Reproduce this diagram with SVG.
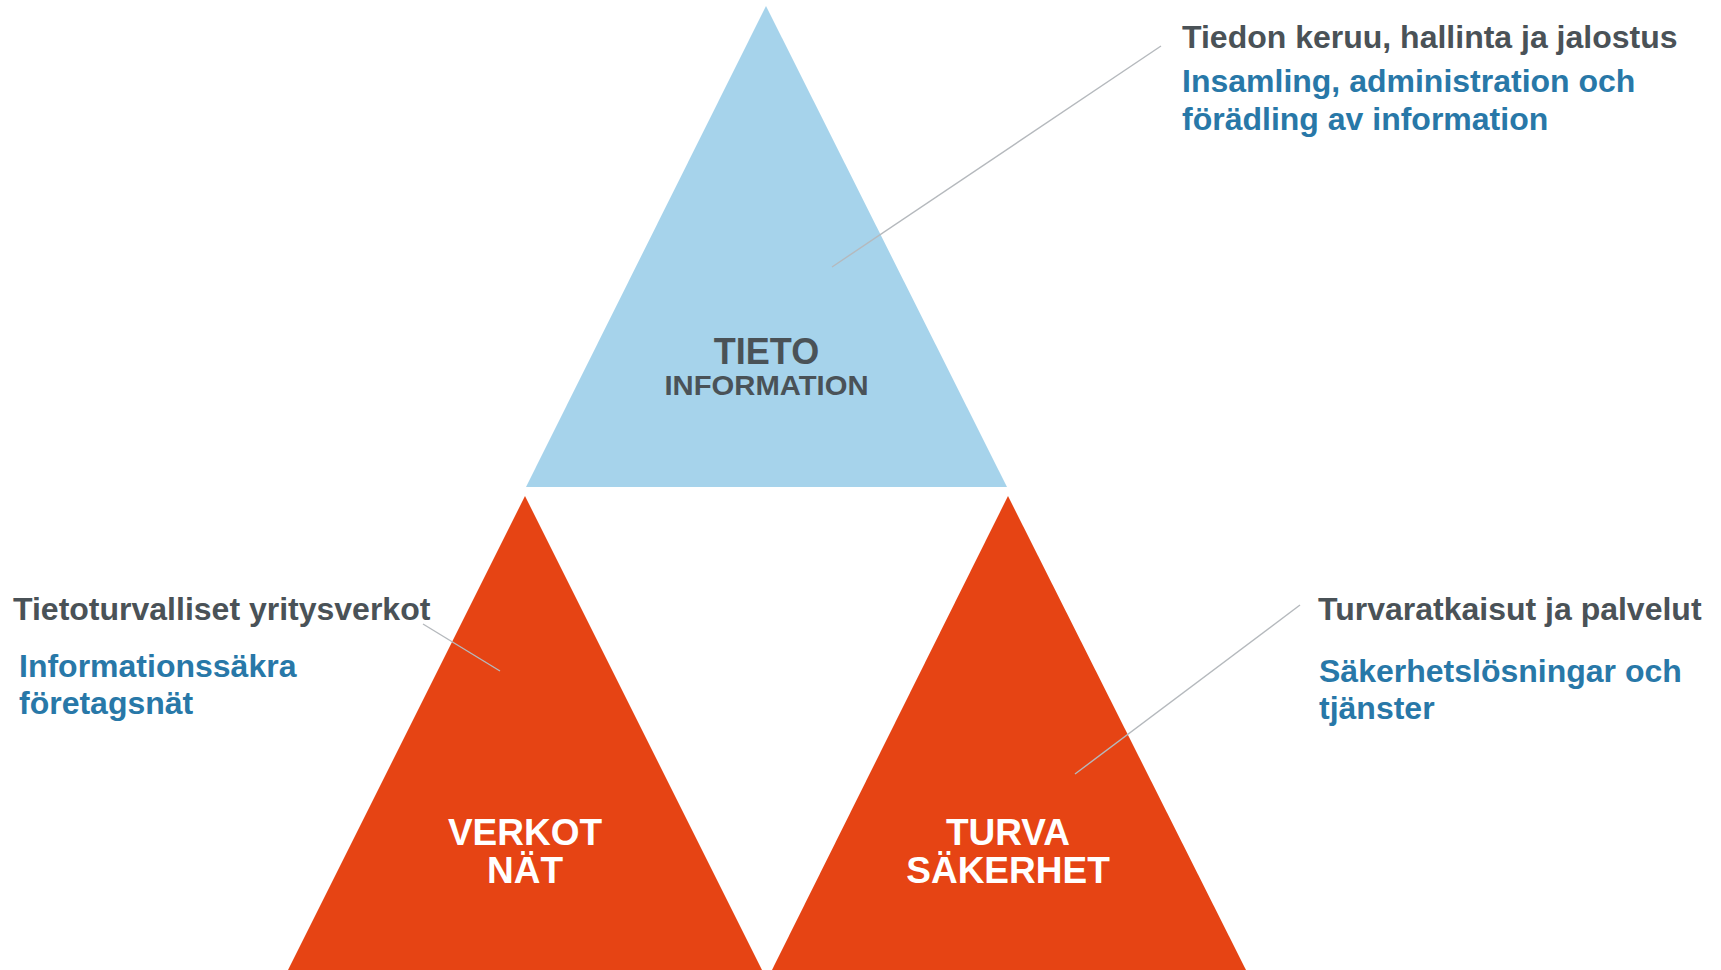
<svg xmlns="http://www.w3.org/2000/svg" width="1721" height="970" viewBox="0 0 1721 970">
<style>
.t{font-family:"Liberation Sans",Arial,sans-serif;font-weight:bold}
.gray{fill:#4A5257;font-size:32px}
.blue{fill:#2878A8;font-size:32px}
.lbl{text-anchor:middle}
.conn{stroke:#B5B9BD;stroke-width:1.4;fill:none}
</style>
<rect width="1721" height="970" fill="#FFFFFF"/>
<g id="tieto">
<polygon points="766,6 1007,487 526,487" fill="#A6D3EB"/>
<text class="t lbl" x="766.5" y="364" font-size="36" fill="#4A5257">TIETO</text>
<text class="t lbl" x="766.5" y="395" font-size="28" fill="#4A5257" textLength="204" lengthAdjust="spacingAndGlyphs">INFORMATION</text>
</g>
<g id="verkot">
<polygon points="525,496 764,974 286,974" fill="#E64414"/>
<text class="t lbl" x="525" y="845" font-size="37" fill="#FFFFFF">VERKOT</text>
<text class="t lbl" x="525" y="883" font-size="37" fill="#FFFFFF">NÄT</text>
</g>
<g id="turva">
<polygon points="1008,496 1248,974 770,974" fill="#E64414"/>
<text class="t lbl" x="1008" y="845" font-size="37" fill="#FFFFFF">TURVA</text>
<text class="t lbl" x="1008" y="883" font-size="37" fill="#FFFFFF">SÄKERHET</text>
</g>
<g id="label-tieto">
<text class="t gray" x="1182" y="48">Tiedon keruu, hallinta ja jalostus</text>
<text class="t blue" x="1182" y="92">Insamling, administration och</text>
<text class="t blue" x="1182" y="130">förädling av information</text>
</g>
<g id="label-verkot">
<text class="t gray" x="13" y="620">Tietoturvalliset yritysverkot</text>
<text class="t blue" x="19" y="677">Informationssäkra</text>
<text class="t blue" x="19" y="714">företagsnät</text>
</g>
<g id="label-turva">
<text class="t gray" x="1318" y="620">Turvaratkaisut ja palvelut</text>
<text class="t blue" x="1319" y="682">Säkerhetslösningar och</text>
<text class="t blue" x="1319" y="719">tjänster</text>
</g>
<g id="connectors">
<line class="conn" x1="1161" y1="46" x2="832" y2="267"/>
<line class="conn" x1="423" y1="624" x2="500" y2="671"/>
<line class="conn" x1="1300" y1="605" x2="1075" y2="774"/>
</g>
</svg>
